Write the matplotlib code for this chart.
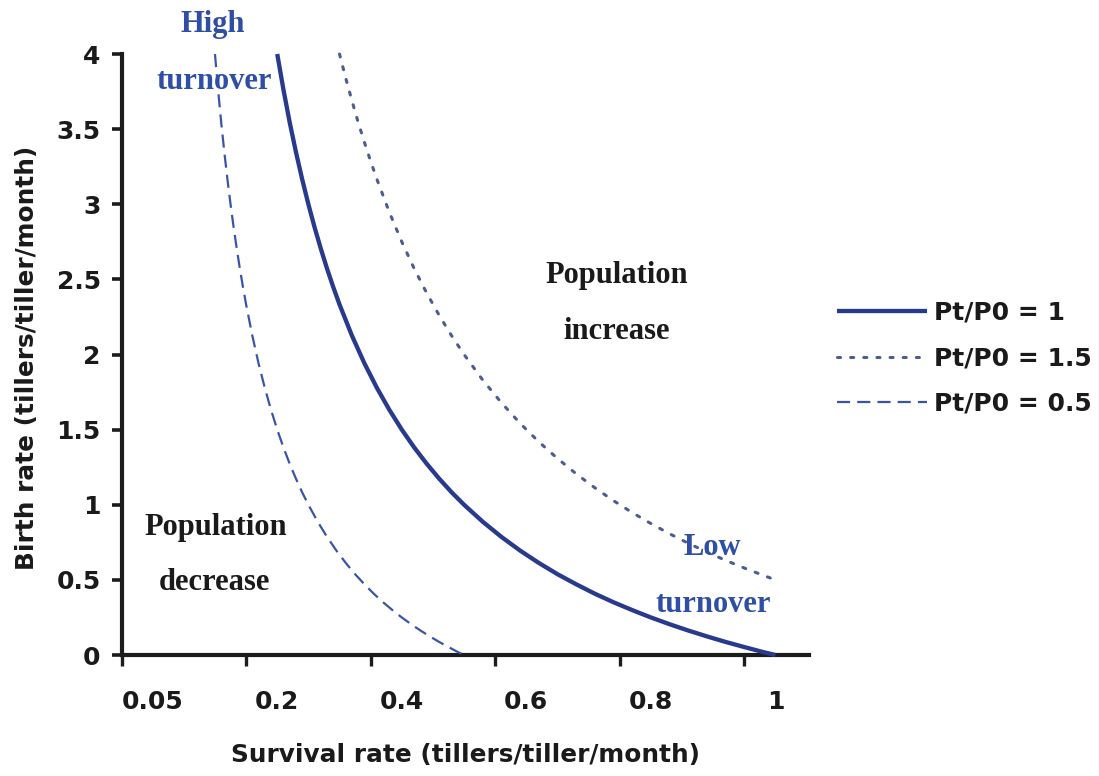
import matplotlib
matplotlib.use("Agg")
import matplotlib.pyplot as plt

plt.rcParams["font.family"] = ["DejaVu Sans"]
plt.rcParams["font.weight"] = "bold"

# Survival rate (x) and birth rate (y) along each population-ratio isoline
surv_ratio_1 = [0.20, 0.21, 0.22, 0.23, 0.24, 0.25, 0.26, 0.27, 0.28, 0.29, 0.30,
                0.32, 0.34, 0.36, 0.38, 0.40, 0.42, 0.44, 0.46, 0.48, 0.50,
                0.53, 0.56, 0.59, 0.62, 0.65, 0.68, 0.71, 0.74, 0.77, 0.80,
                0.83, 0.86, 0.89, 0.92, 0.95, 0.98, 1.00]
birth_ratio_1 = [4.000, 3.762, 3.545, 3.348, 3.167, 3.000, 2.846, 2.704, 2.571,
                 2.448, 2.333, 2.125, 1.941, 1.778, 1.632, 1.500, 1.381, 1.273,
                 1.174, 1.083, 1.000, 0.887, 0.786, 0.695, 0.613, 0.538, 0.471,
                 0.408, 0.351, 0.299, 0.250, 0.205, 0.163, 0.124, 0.087, 0.053,
                 0.020, 0.000]

surv_ratio_15 = [0.30, 0.31, 0.32, 0.33, 0.34, 0.35, 0.36, 0.38, 0.40, 0.42, 0.44,
                 0.46, 0.48, 0.50, 0.53, 0.56, 0.59, 0.62, 0.65, 0.68, 0.71,
                 0.74, 0.77, 0.80, 0.83, 0.86, 0.89, 0.92, 0.95, 0.98, 1.00]
birth_ratio_15 = [4.000, 3.839, 3.688, 3.545, 3.412, 3.286, 3.167, 2.947, 2.750,
                  2.571, 2.409, 2.261, 2.125, 2.000, 1.830, 1.679, 1.542, 1.419,
                  1.308, 1.206, 1.113, 1.027, 0.948, 0.875, 0.807, 0.744, 0.685,
                  0.630, 0.579, 0.531, 0.500]

surv_ratio_05 = [0.100, 0.105, 0.110, 0.115, 0.120, 0.125, 0.130, 0.135, 0.140,
                 0.145, 0.150, 0.160, 0.170, 0.180, 0.190, 0.200, 0.210, 0.220,
                 0.230, 0.240, 0.250, 0.265, 0.280, 0.295, 0.310, 0.325, 0.340,
                 0.355, 0.370, 0.385, 0.400, 0.415, 0.430, 0.445, 0.460, 0.475,
                 0.490, 0.500]
birth_ratio_05 = [4.000, 3.762, 3.545, 3.348, 3.167, 3.000, 2.846, 2.704, 2.571,
                  2.448, 2.333, 2.125, 1.941, 1.778, 1.632, 1.500, 1.381, 1.273,
                  1.174, 1.083, 1.000, 0.887, 0.786, 0.695, 0.613, 0.538, 0.471,
                  0.408, 0.351, 0.299, 0.250, 0.205, 0.163, 0.124, 0.087, 0.053,
                  0.020, 0.000]

series_labels = ["Pt/P0 = 1", "Pt/P0 = 1.5", "Pt/P0 = 0.5"]

x_label_pos = [0.0, 0.2, 0.4, 0.6, 0.8, 1.0]
x_tick_labels = ["0.05", "0.2", "0.4", "0.6", "0.8", "1"]
x_mark_pos = [-0.05, 0.15, 0.35, 0.55, 0.75, 0.95]
y_ticks = [0, 0.5, 1, 1.5, 2, 2.5, 3, 3.5, 4]
y_tick_labels = ["0", "0.5", "1", "1.5", "2", "2.5", "3", "3.5", "4"]

AXIS_COLOR = "#1c1c1c"
TEXT_BLUE = "#2f4ea5"

fig = plt.figure(figsize=(10.99, 7.76), dpi=100)
ax = fig.add_axes([0.1106, 0.1559, 0.6256, 0.7745])

ax.plot(surv_ratio_1, birth_ratio_1, color="#283a8c", lw=3.1,
        solid_capstyle="butt", solid_joinstyle="round",
        label=series_labels[0], clip_on=False, zorder=4)
ax.plot(surv_ratio_15, birth_ratio_15, color="#4f5d8c", lw=2.2,
        linestyle=(0, (1, 3.3)), dash_capstyle="round",
        label=series_labels[1], clip_on=False, zorder=4)
ax.plot(surv_ratio_05, birth_ratio_05, color="#3b55a6", lw=1.6,
        linestyle=(0, (5.9, 3.2)), label=series_labels[2], clip_on=False, zorder=4)

ax.set_xlim(-0.05, 1.054)
ax.set_ylim(0, 4)

for side in ("top", "right"):
    ax.spines[side].set_visible(False)
for side in ("left", "bottom"):
    ax.spines[side].set_linewidth(3.0)
    ax.spines[side].set_color(AXIS_COLOR)

# tick marks sit between the labels; labels carried by zero-length minor ticks
ax.set_xticks(x_mark_pos)
ax.set_xticks(x_label_pos, x_tick_labels, minor=True)
ax.tick_params(axis="x", which="major", direction="out", length=8, width=2.4,
               color=AXIS_COLOR, labelbottom=False)
ax.tick_params(axis="x", which="minor", length=0, pad=25.5, labelsize=18,
               labelcolor="#1a1a1a")

ax.set_yticks(y_ticks, y_tick_labels)
ax.tick_params(axis="y", which="major", direction="out", length=7, width=2.6,
               color=AXIS_COLOR, pad=8, labelsize=18, labelcolor="#1a1a1a")

ax.set_xlabel("Survival rate (tillers/tiller/month)", fontsize=17.8,
              fontweight="bold", color="#1a1a1a")
ax.xaxis.label.set_va("baseline")
ax.xaxis.set_label_coords(0.5, -0.178)

ax.set_ylabel("Birth rate (tillers/tiller/month)", fontsize=17.8,
              fontweight="bold", color="#1a1a1a")
ax.yaxis.label.set_va("center")
ax.yaxis.set_label_coords(-0.137, 0.494)

serif = dict(family="Liberation Serif", fontweight="bold", fontsize=22,
             ha="center", va="baseline", clip_on=False, zorder=5)

ax.text(0.097, 4.148, "High", color=TEXT_BLUE, **serif)
ax.text(0.0996, 3.768, "turnover", color=TEXT_BLUE, **serif)
ax.text(0.745, 2.477, "Population", color="#1a1a1a", **serif)
ax.text(0.745, 2.104, "increase", color="#1a1a1a", **serif)
ax.text(0.101, 0.799, "Population", color="#1a1a1a", **serif)
ax.text(0.0996, 0.433, "decrease", color="#1a1a1a", **serif)
ax.text(0.899, 0.666, "Low", color=TEXT_BLUE, **serif)
ax.text(0.9004, 0.286, "turnover", color=TEXT_BLUE, **serif)

leg = ax.legend(loc="upper left", bbox_to_anchor=(837 / 1099, 1 - 301 / 776),
                bbox_transform=fig.transFigure, frameon=False, borderpad=0,
                borderaxespad=0, handlelength=3.6, handletextpad=0.3,
                labelspacing=0.86, prop=dict(size=18, weight="bold"))
for t in leg.get_texts():
    t.set_color("#1a1a1a")

fig.savefig("out.png", dpi=100)
